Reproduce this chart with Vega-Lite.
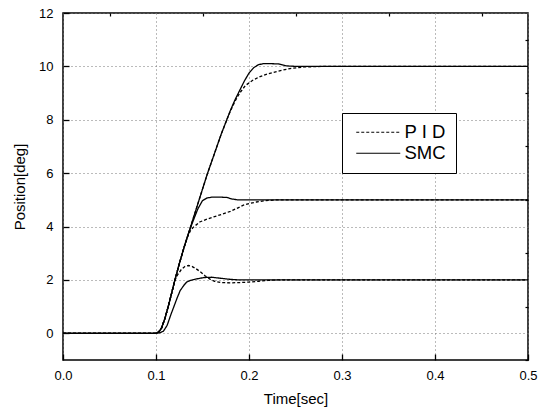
{
  "$schema": "https://vega.github.io/schema/vega-lite/v6.json",
  "width": 465,
  "height": 347,
  "autosize": "none",
  "padding": {"left": 63, "top": 13, "right": 17, "bottom": 54},
  "background": "white",
  "config": {
    "view": {"stroke": "black", "strokeWidth": 1.5},
    "font": "Liberation Sans",
    "axis": {"labelFont": "Liberation Sans", "titleFont": "Liberation Sans", "labelColor": "black", "titleColor": "black", "titleFontWeight": "normal"},
    "legend": {"labelFont": "Liberation Sans"}
  },
  "datasets": {
    "curves": [
      {"method": "SMC", "step": 10, "t": 0, "v": 0},
      {"method": "SMC", "step": 10, "t": 0.1, "v": 0},
      {"method": "SMC", "step": 10, "t": 0.103, "v": 0.05},
      {"method": "SMC", "step": 10, "t": 0.106, "v": 0.2},
      {"method": "SMC", "step": 10, "t": 0.11, "v": 0.6},
      {"method": "SMC", "step": 10, "t": 0.115, "v": 1.25},
      {"method": "SMC", "step": 10, "t": 0.12, "v": 1.95},
      {"method": "SMC", "step": 10, "t": 0.125, "v": 2.6},
      {"method": "SMC", "step": 10, "t": 0.13, "v": 3.2},
      {"method": "SMC", "step": 10, "t": 0.135, "v": 3.75},
      {"method": "SMC", "step": 10, "t": 0.14, "v": 4.3},
      {"method": "SMC", "step": 10, "t": 0.145, "v": 4.85},
      {"method": "SMC", "step": 10, "t": 0.15, "v": 5.4},
      {"method": "SMC", "step": 10, "t": 0.155, "v": 5.95},
      {"method": "SMC", "step": 10, "t": 0.16, "v": 6.45},
      {"method": "SMC", "step": 10, "t": 0.165, "v": 6.95},
      {"method": "SMC", "step": 10, "t": 0.17, "v": 7.45},
      {"method": "SMC", "step": 10, "t": 0.175, "v": 7.9},
      {"method": "SMC", "step": 10, "t": 0.18, "v": 8.35},
      {"method": "SMC", "step": 10, "t": 0.185, "v": 8.75},
      {"method": "SMC", "step": 10, "t": 0.19, "v": 9.1},
      {"method": "SMC", "step": 10, "t": 0.195, "v": 9.45},
      {"method": "SMC", "step": 10, "t": 0.2, "v": 9.75},
      {"method": "SMC", "step": 10, "t": 0.205, "v": 9.95},
      {"method": "SMC", "step": 10, "t": 0.21, "v": 10.06},
      {"method": "SMC", "step": 10, "t": 0.215, "v": 10.1},
      {"method": "SMC", "step": 10, "t": 0.225, "v": 10.1},
      {"method": "SMC", "step": 10, "t": 0.232, "v": 10.09},
      {"method": "SMC", "step": 10, "t": 0.24, "v": 10.02},
      {"method": "SMC", "step": 10, "t": 0.25, "v": 10.0},
      {"method": "SMC", "step": 10, "t": 0.5, "v": 10.0},

      {"method": "P I D", "step": 10, "t": 0, "v": 0},
      {"method": "P I D", "step": 10, "t": 0.1, "v": 0},
      {"method": "P I D", "step": 10, "t": 0.103, "v": 0.05},
      {"method": "P I D", "step": 10, "t": 0.106, "v": 0.2},
      {"method": "P I D", "step": 10, "t": 0.11, "v": 0.6},
      {"method": "P I D", "step": 10, "t": 0.115, "v": 1.25},
      {"method": "P I D", "step": 10, "t": 0.12, "v": 1.95},
      {"method": "P I D", "step": 10, "t": 0.125, "v": 2.6},
      {"method": "P I D", "step": 10, "t": 0.13, "v": 3.2},
      {"method": "P I D", "step": 10, "t": 0.135, "v": 3.75},
      {"method": "P I D", "step": 10, "t": 0.14, "v": 4.3},
      {"method": "P I D", "step": 10, "t": 0.145, "v": 4.85},
      {"method": "P I D", "step": 10, "t": 0.15, "v": 5.4},
      {"method": "P I D", "step": 10, "t": 0.155, "v": 5.95},
      {"method": "P I D", "step": 10, "t": 0.16, "v": 6.45},
      {"method": "P I D", "step": 10, "t": 0.165, "v": 6.95},
      {"method": "P I D", "step": 10, "t": 0.17, "v": 7.45},
      {"method": "P I D", "step": 10, "t": 0.175, "v": 7.9},
      {"method": "P I D", "step": 10, "t": 0.18, "v": 8.33},
      {"method": "P I D", "step": 10, "t": 0.185, "v": 8.7},
      {"method": "P I D", "step": 10, "t": 0.19, "v": 9.0},
      {"method": "P I D", "step": 10, "t": 0.196, "v": 9.28},
      {"method": "P I D", "step": 10, "t": 0.204, "v": 9.48},
      {"method": "P I D", "step": 10, "t": 0.212, "v": 9.62},
      {"method": "P I D", "step": 10, "t": 0.22, "v": 9.72},
      {"method": "P I D", "step": 10, "t": 0.23, "v": 9.81},
      {"method": "P I D", "step": 10, "t": 0.244, "v": 9.92},
      {"method": "P I D", "step": 10, "t": 0.26, "v": 9.98},
      {"method": "P I D", "step": 10, "t": 0.28, "v": 10.0},
      {"method": "P I D", "step": 10, "t": 0.5, "v": 10.0},

      {"method": "SMC", "step": 5, "t": 0, "v": 0},
      {"method": "SMC", "step": 5, "t": 0.1, "v": 0},
      {"method": "SMC", "step": 5, "t": 0.103, "v": 0.05},
      {"method": "SMC", "step": 5, "t": 0.106, "v": 0.2},
      {"method": "SMC", "step": 5, "t": 0.11, "v": 0.6},
      {"method": "SMC", "step": 5, "t": 0.115, "v": 1.25},
      {"method": "SMC", "step": 5, "t": 0.12, "v": 1.95},
      {"method": "SMC", "step": 5, "t": 0.125, "v": 2.6},
      {"method": "SMC", "step": 5, "t": 0.13, "v": 3.2},
      {"method": "SMC", "step": 5, "t": 0.135, "v": 3.75},
      {"method": "SMC", "step": 5, "t": 0.14, "v": 4.22},
      {"method": "SMC", "step": 5, "t": 0.145, "v": 4.66},
      {"method": "SMC", "step": 5, "t": 0.15, "v": 4.97},
      {"method": "SMC", "step": 5, "t": 0.155, "v": 5.07},
      {"method": "SMC", "step": 5, "t": 0.16, "v": 5.1},
      {"method": "SMC", "step": 5, "t": 0.17, "v": 5.1},
      {"method": "SMC", "step": 5, "t": 0.176, "v": 5.09},
      {"method": "SMC", "step": 5, "t": 0.182, "v": 5.03},
      {"method": "SMC", "step": 5, "t": 0.188, "v": 5.0},
      {"method": "SMC", "step": 5, "t": 0.5, "v": 5.0},

      {"method": "P I D", "step": 5, "t": 0, "v": 0},
      {"method": "P I D", "step": 5, "t": 0.1, "v": 0},
      {"method": "P I D", "step": 5, "t": 0.103, "v": 0.05},
      {"method": "P I D", "step": 5, "t": 0.106, "v": 0.2},
      {"method": "P I D", "step": 5, "t": 0.11, "v": 0.6},
      {"method": "P I D", "step": 5, "t": 0.115, "v": 1.25},
      {"method": "P I D", "step": 5, "t": 0.12, "v": 1.95},
      {"method": "P I D", "step": 5, "t": 0.125, "v": 2.6},
      {"method": "P I D", "step": 5, "t": 0.13, "v": 3.2},
      {"method": "P I D", "step": 5, "t": 0.134, "v": 3.62},
      {"method": "P I D", "step": 5, "t": 0.137, "v": 3.84},
      {"method": "P I D", "step": 5, "t": 0.14, "v": 3.97},
      {"method": "P I D", "step": 5, "t": 0.147, "v": 4.17},
      {"method": "P I D", "step": 5, "t": 0.155, "v": 4.28},
      {"method": "P I D", "step": 5, "t": 0.162, "v": 4.36},
      {"method": "P I D", "step": 5, "t": 0.17, "v": 4.45},
      {"method": "P I D", "step": 5, "t": 0.18, "v": 4.57},
      {"method": "P I D", "step": 5, "t": 0.187, "v": 4.68},
      {"method": "P I D", "step": 5, "t": 0.194, "v": 4.8},
      {"method": "P I D", "step": 5, "t": 0.201, "v": 4.87},
      {"method": "P I D", "step": 5, "t": 0.208, "v": 4.92},
      {"method": "P I D", "step": 5, "t": 0.218, "v": 4.97},
      {"method": "P I D", "step": 5, "t": 0.23, "v": 5.0},
      {"method": "P I D", "step": 5, "t": 0.5, "v": 5.0},

      {"method": "SMC", "step": 2, "t": 0, "v": 0},
      {"method": "SMC", "step": 2, "t": 0.1, "v": 0},
      {"method": "SMC", "step": 2, "t": 0.104, "v": 0.02},
      {"method": "SMC", "step": 2, "t": 0.108, "v": 0.08},
      {"method": "SMC", "step": 2, "t": 0.112, "v": 0.3},
      {"method": "SMC", "step": 2, "t": 0.116, "v": 0.7},
      {"method": "SMC", "step": 2, "t": 0.12, "v": 1.07},
      {"method": "SMC", "step": 2, "t": 0.123, "v": 1.35},
      {"method": "SMC", "step": 2, "t": 0.126, "v": 1.6},
      {"method": "SMC", "step": 2, "t": 0.13, "v": 1.8},
      {"method": "SMC", "step": 2, "t": 0.133, "v": 1.92},
      {"method": "SMC", "step": 2, "t": 0.137, "v": 1.98},
      {"method": "SMC", "step": 2, "t": 0.14, "v": 2.01},
      {"method": "SMC", "step": 2, "t": 0.147, "v": 2.06},
      {"method": "SMC", "step": 2, "t": 0.152, "v": 2.09},
      {"method": "SMC", "step": 2, "t": 0.16, "v": 2.1},
      {"method": "SMC", "step": 2, "t": 0.17, "v": 2.06},
      {"method": "SMC", "step": 2, "t": 0.18, "v": 2.02},
      {"method": "SMC", "step": 2, "t": 0.19, "v": 2.0},
      {"method": "SMC", "step": 2, "t": 0.5, "v": 2.0},

      {"method": "P I D", "step": 2, "t": 0, "v": 0},
      {"method": "P I D", "step": 2, "t": 0.1, "v": 0},
      {"method": "P I D", "step": 2, "t": 0.103, "v": 0.05},
      {"method": "P I D", "step": 2, "t": 0.106, "v": 0.2},
      {"method": "P I D", "step": 2, "t": 0.11, "v": 0.6},
      {"method": "P I D", "step": 2, "t": 0.115, "v": 1.25},
      {"method": "P I D", "step": 2, "t": 0.12, "v": 1.95},
      {"method": "P I D", "step": 2, "t": 0.123, "v": 2.18},
      {"method": "P I D", "step": 2, "t": 0.127, "v": 2.38},
      {"method": "P I D", "step": 2, "t": 0.131, "v": 2.5},
      {"method": "P I D", "step": 2, "t": 0.135, "v": 2.54},
      {"method": "P I D", "step": 2, "t": 0.139, "v": 2.5},
      {"method": "P I D", "step": 2, "t": 0.143, "v": 2.42},
      {"method": "P I D", "step": 2, "t": 0.148, "v": 2.3},
      {"method": "P I D", "step": 2, "t": 0.153, "v": 2.15},
      {"method": "P I D", "step": 2, "t": 0.158, "v": 2.03},
      {"method": "P I D", "step": 2, "t": 0.163, "v": 1.95},
      {"method": "P I D", "step": 2, "t": 0.17, "v": 1.9},
      {"method": "P I D", "step": 2, "t": 0.18, "v": 1.89},
      {"method": "P I D", "step": 2, "t": 0.19, "v": 1.9},
      {"method": "P I D", "step": 2, "t": 0.2, "v": 1.92},
      {"method": "P I D", "step": 2, "t": 0.21, "v": 1.95},
      {"method": "P I D", "step": 2, "t": 0.22, "v": 1.98},
      {"method": "P I D", "step": 2, "t": 0.23, "v": 2.0},
      {"method": "P I D", "step": 2, "t": 0.5, "v": 2.0}
    ]
  },
  "data": {"name": "curves"},
  "layer": [
    {
      "mark": {"type": "line", "color": "black", "strokeWidth": 1.3},
      "encoding": {
        "x": {
          "field": "t", "type": "quantitative",
          "scale": {"domain": [0, 0.5], "nice": false, "zero": false},
          "axis": {
            "title": "Time[sec]", "titleFontSize": 15, "titlePadding": 9,
            "values": [0, 0.1, 0.2, 0.3, 0.4, 0.5], "format": ".1f",
            "labelFontSize": 13, "labelPadding": 15, "labelFlush": false,
            "tickSize": -6, "tickColor": "black", "tickWidth": 1.3,
            "domain": false,
            "grid": true, "gridColor": "#777", "gridDash": [1, 3], "gridWidth": 1
          }
        },
        "y": {
          "field": "v", "type": "quantitative",
          "scale": {"domain": [-1, 12], "nice": false, "zero": false},
          "axis": {
            "title": "Position[deg]", "titleFontSize": 15, "titlePadding": 11,
            "values": [0, 2, 4, 6, 8, 10, 12], "format": "d",
            "labelFontSize": 13, "labelPadding": 16, "labelFlush": false,
            "tickSize": -6, "tickColor": "black", "tickWidth": 1.3,
            "domain": false,
            "grid": true, "gridColor": "#777", "gridDash": [1, 3], "gridWidth": 1
          }
        },
        "strokeDash": {
          "field": "method", "type": "nominal",
          "scale": {"domain": ["P I D", "SMC"], "range": [[3, 2], [1, 0]]},
          "legend": {
            "title": null, "orient": "none", "legendX": 279, "legendY": 100,
            "strokeColor": "black", "fillColor": "white", "padding": 10,
            "labelFontSize": 18.5, "labelColor": "black",
            "symbolType": "M-4,0H4", "symbolStrokeColor": "black", "symbolStrokeWidth": 1.2,
            "symbolSize": 121, "symbolOffset": 17, "rowPadding": 2, "labelOffset": 17
          }
        },
        "detail": {"field": "step", "type": "nominal"}
      }
    },
    {
      "mark": {"type": "point", "opacity": 0},
      "encoding": {
        "x": {
          "field": "t", "type": "quantitative",
          "axis": {
            "title": null, "labels": false, "grid": false, "domain": false,
            "values": [0.05, 0.15, 0.25, 0.35, 0.45],
            "tickSize": -3, "tickColor": "black", "tickWidth": 1.2
          }
        },
        "y": {
          "field": "v", "type": "quantitative",
          "axis": {
            "title": null, "labels": false, "grid": false, "domain": false,
            "values": [-1, 1, 3, 5, 7, 9, 11],
            "tickSize": -3, "tickColor": "black", "tickWidth": 1.2
          }
        }
      }
    }
  ],
  "resolve": {"axis": {"x": "independent", "y": "independent"}}
}
